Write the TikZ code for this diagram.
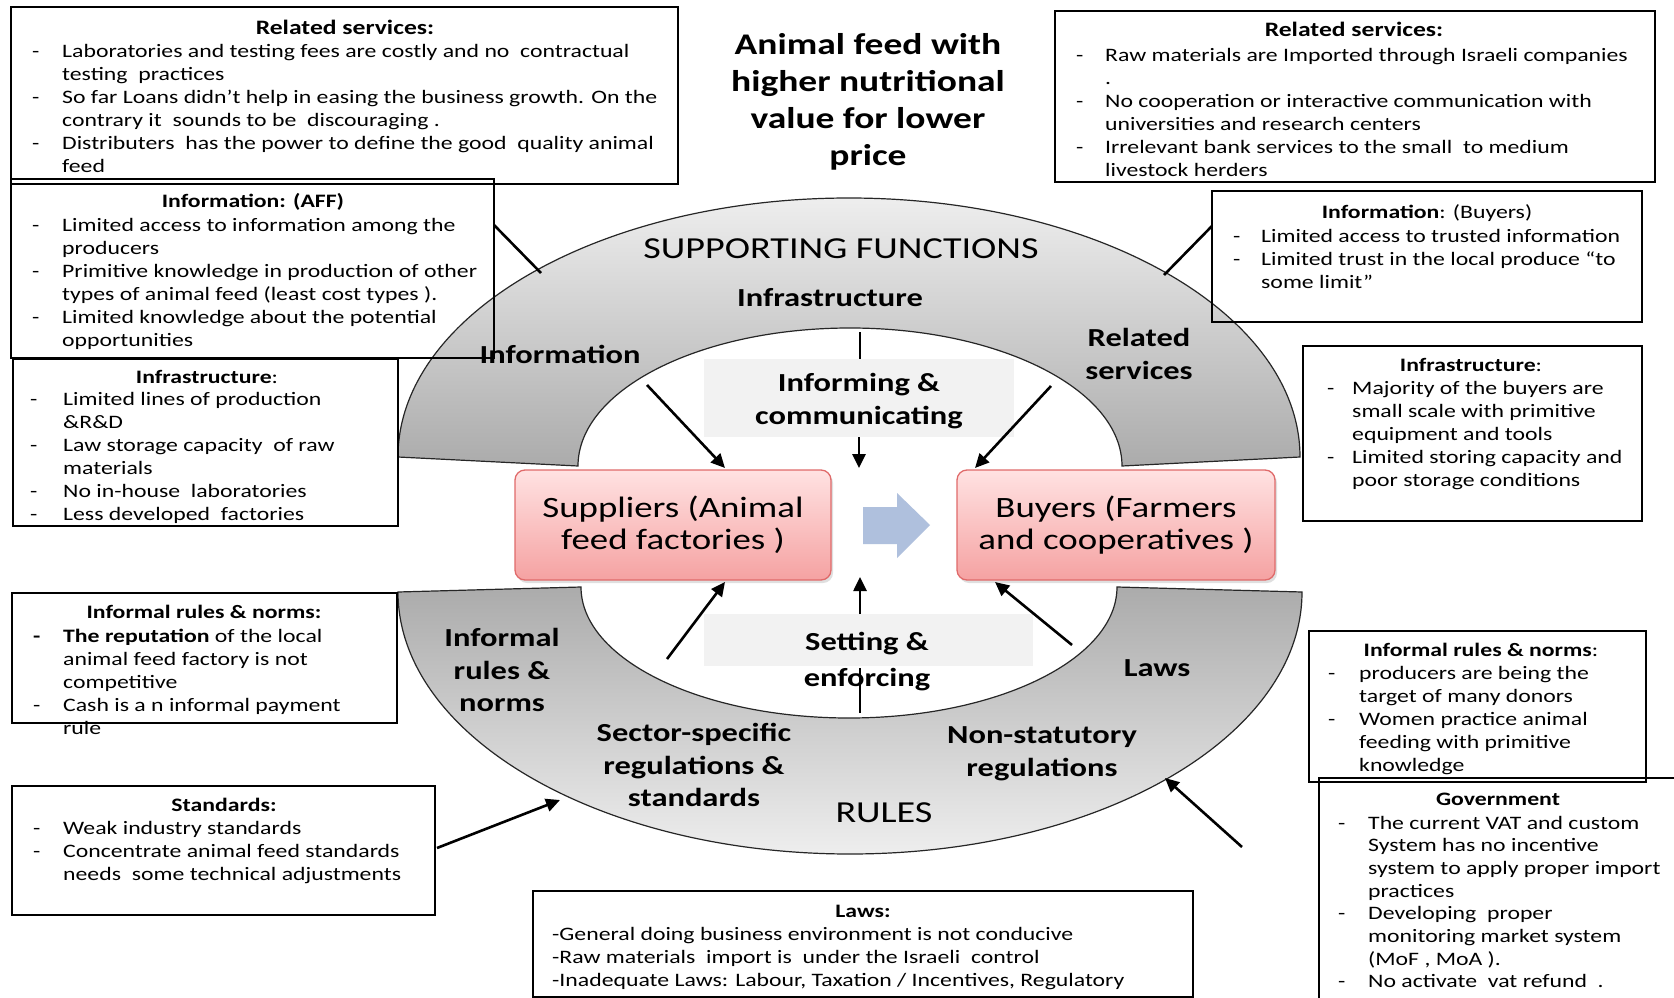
\documentclass[tikz,border=0pt]{standalone}
\usepackage{fontspec}
\setmainfont{Carlito}[FakeStretch=1.25]
\usetikzlibrary{arrows.meta,shadows}

\definecolor{archlight}{HTML}{EEEEEE}
\definecolor{archdark}{HTML}{ABABAB}
\definecolor{labelbg}{HTML}{F2F2F2}
\definecolor{pinktop}{HTML}{FFE2E2}
\definecolor{pinkbot}{HTML}{F5A2A2}
\definecolor{pinkedge}{HTML}{E06A6A}
\definecolor{flowblue}{HTML}{AFC0DD}

\newcommand{\blist}[2]{\begin{tabular}[t]{@{}p{#1}@{}l@{}}#2\end{tabular}}

\begin{document}
\begin{tikzpicture}[x=1pt,y=-1pt,
  box/.style={draw=black, line width=1.5pt},
  ttl/.style={anchor=base, inner sep=0pt, font=\fontsize{19}{23}\selectfont\bfseries},
  bigttl/.style={anchor=base, inner sep=0pt, font=\fontsize{20.5}{23}\selectfont\bfseries},
  bodytxt/.style={anchor=base west, inner sep=0pt, font=\fontsize{19}{23}\selectfont},
  arclbl/.style={align=center, inner sep=0pt, font=\fontsize{26}{32.5}\selectfont\bfseries},
  bigcap/.style={inner sep=0pt, font=\fontsize{30.5}{34}\selectfont},
  actor/.style={draw=pinkedge, line width=1.3pt, rounded corners=10pt,
    top color=pinktop, bottom color=pinkbot, align=center,
    font=\fontsize{29.5}{32}\selectfont,
    drop shadow={shadow xshift=2pt, shadow yshift=-3pt, opacity=0.25}},
  arch/.style={draw=black!85, line width=1.2pt},
  link/.style={line width=2.6pt},
  arrowline/.style={line width=2.6pt, -{Triangle[length=14pt,width=13pt]}}]

\useasboundingbox (0,0) rectangle (1674,998);
\fill[white] (0,0) rectangle (1674,998);

% supporting functions arch (top) and rules arch (bottom)
\draw[arch, top color=archlight, bottom color=archdark]
  (398,457) arc[start angle=180, end angle=0, x radius=451pt, y radius=259pt]
  -- (1122,466) arc[start angle=0, end angle=180, x radius=272pt, y radius=138pt]
  -- cycle;
\draw[arch, top color=archdark, bottom color=archlight]
  (398,592) arc[start angle=180, end angle=360, x radius=452pt, y radius=262pt]
  -- (1117,587) arc[start angle=360, end angle=180, x radius=268pt, y radius=131pt]
  -- cycle;

% labels inside the arches
\node[bigcap] (supfun) at (841,249) {SUPPORTING FUNCTIONS};
\node[arclbl] (infra) at (830,298) {Infrastructure};
\node[arclbl] (info) at (560,354) {Information};
\node[arclbl] (relserv) at (1139,354) {Related\\services};
\node[arclbl] (informal) at (502,670) {Informal\\rules \&\\norms};
\node[arclbl] (laws) at (1157,668) {Laws};
\node[arclbl] (sector) at (694,765) {Sector-specific\\regulations \&\\standards};
\node[arclbl] (nonstat) at (1042,754) {Non-statutory\\regulations};
\node[bigcap] (rules) at (884,813) {RULES};

% grey captions in the middle
\node[fill=labelbg, minimum width=310pt, minimum height=78pt, inner sep=0pt] (inform) at (859,398) {};
\node[arclbl] (inftxt) at (859,401) {Informing \&\\communicating};
\node[fill=labelbg, minimum width=329pt, minimum height=52pt, inner sep=0pt] (setbox) at (868.5,640) {};
\node[arclbl, font=\fontsize{26}{36}\selectfont\bfseries] (settxt) at (867,662) {Setting \&\\enforcing};

% market actors
\node[actor, minimum width=316pt, minimum height=110pt] (sup) at (673,525) {Suppliers (Animal\\feed factories )};
\node[actor, minimum width=318pt, minimum height=110pt] (buy) at (1116,525) {Buyers (Farmers\\and cooperatives )};
\fill[flowblue] (863,507) -- (897,507) -- (897,493) -- (930,525) -- (897,558) -- (897,544) -- (863,544) -- cycle;

% title
\node[align=center, inner sep=0pt, font=\fontsize{30}{37}\selectfont\bfseries] (title) at (868,102)
  {Animal feed with\\higher nutritional\\value for lower\\price};

% arrows from the supporting functions
\coordinate (ta1) at (647,385); \coordinate (ta2) at (725,468);
\coordinate (tv0) at (860,332); \coordinate (tv1) at (859,468);
\coordinate (tc1) at (1051,386); \coordinate (tc2) at (975,468);
\draw[arrowline] (ta1) -- (ta2);
\draw[link] (tv0) -- (tv0 |- inform.north);
\draw[arrowline] (tv1 |- inform.south) -- (tv1);
\draw[arrowline] (tc1) -- (tc2);

% arrows from the rules
\coordinate (ba1) at (667,659); \coordinate (ba2) at (725,582);
\coordinate (bv0) at (860,713); \coordinate (bv1) at (860,668);
\coordinate (bv2) at (860,614); \coordinate (bv3) at (860,577);
\coordinate (bc1) at (1072,645); \coordinate (bc2) at (995,582);
\draw[arrowline] (ba1) -- (ba2);
\draw[link] (bv0) -- (bv1);
\draw[arrowline] (bv2) -- (bv3);
\draw[arrowline] (bc1) -- (bc2);

% ---------- left column ----------
\draw[box] (11,7) rectangle (678,184);
\node[bigttl] (relL) at (345,35) {Related services:};
\node[bodytxt] (relLtxt) at (32,58) {\blist{30pt}{%
- & Laboratories and testing fees are costly and no\ \ contractual\\
  & testing\ \ practices\\
- & So far Loans didn’t help in easing the business growth. On the\\
  & contrary it\ \ sounds to be\ \ discouraging .\\
- & Distributers\ \ has the power to define the good\ \ quality animal\\
  & feed}};

\draw[box] (11,179) rectangle (494,358);
\node[ttl] (infoL) at (253,207) {Information: (AFF)};
\node[bodytxt] (infoLtxt) at (32,231) {\blist{30pt}{%
- & Limited access to information among the\\
  & producers\\
- & Primitive knowledge in production of other\\
  & types of animal feed (least cost types ).\\
- & Limited knowledge about the potential\\
  & opportunities}};

\draw[box] (13,359) rectangle (398,526);
\node[ttl] (infraL) at (207,383) {Infrastructure\mdseries:};
\node[bodytxt] (infraLtxt) at (30,405) {\blist{33pt}{%
- & Limited lines of production\\
  & \&R\&D\\
- & Law storage capacity\ \ of raw\\
  & materials\\
- & No in-house\ \ laboratories\\
- & Less developed\ \ factories}};

\draw[box] (12,593) rectangle (397,723);
\node[ttl] (normL) at (204,618) {Informal rules \& norms:};
\node[bodytxt] (normLtxt) at (33,642) {\blist{30pt}{%
\textbf{-} & \textbf{The reputation} of the local\\
  & animal feed factory is not\\
  & competitive\\
- & Cash is a n informal payment\\
  & rule}};

\draw[box] (12,786) rectangle (435,915);
\node[ttl] (stdL) at (224,811) {Standards:};
\node[bodytxt] (stdLtxt) at (33,834) {\blist{30pt}{%
- & Weak industry standards\\
- & Concentrate animal feed standards\\
  & needs\ \ some technical adjustments}};

% ---------- bottom ----------
\draw[box] (533,891) rectangle (1193,997);
\node[ttl] (lawB) at (863,917) {Laws:};
\node[bodytxt] (lawBtxt) at (552,940) {\blist{0pt}{%
& -General doing business environment is not conducive\\
& -Raw materials\ \ import is\ \ under the Israeli\ \ control\\
& -Inadequate Laws: Labour, Taxation / Incentives, Regulatory}};

% ---------- right column ----------
\draw[box] (1055,11) rectangle (1655,182);
\node[bigttl] (relR) at (1354,37) {Related services:};
\node[bodytxt] (relRtxt) at (1076,62) {\blist{29pt}{%
- & Raw materials are Imported through Israeli companies\\
  & .\\
- & No cooperation or interactive communication with\\
  & universities and research centers\\
- & Irrelevant bank services to the small\ \ to medium\\
  & livestock herders}};

\draw[box] (1212,191) rectangle (1642,322);
\node[ttl] (infoR) at (1427,218) {Information\mdseries: (Buyers)};
\node[bodytxt] (infoRtxt) at (1233,242) {\blist{28pt}{%
- & Limited access to trusted information\\
- & Limited trust in the local produce “to\\
  & some limit”}};

\draw[box] (1303,346) rectangle (1642,521);
\node[ttl] (infraR) at (1471,371) {Infrastructure\mdseries:};
\node[bodytxt] (infraRtxt) at (1327,394) {\blist{25pt}{%
- & Majority of the buyers are\\
  & small scale with primitive\\
  & equipment and tools\\
- & Limited storing capacity and\\
  & poor storage conditions}};

\draw[box] (1309,631) rectangle (1646,782);
\node[ttl] (normR) at (1481,656) {Informal rules \& norms\mdseries:};
\node[bodytxt] (normRtxt) at (1328,679) {\blist{31pt}{%
- & producers are being the\\
  & target of many donors\\
- & Women practice animal\\
  & feeding with primitive\\
  & knowledge}};

\draw[box] (1685,778) -- (1319,778) -- (1319,1005);
\node[ttl] (govR) at (1498,805) {Government};
\node[bodytxt, font=\fontsize{19}{22.7}\selectfont] (govRtxt) at (1338,829) {\blist{30pt}{%
- & The current VAT and custom\\
  & System has no incentive\\
  & system to apply proper import\\
  & practices\\
- & Developing\ \ proper\\
  & monitoring market system\\
  & (MoF , MoA ).\\
- & No activate\ \ vat refund\ \ .}};

% links from the boxes to the arches
\coordinate (lkA1) at (494,225); \coordinate (lkA2) at (541,273);
\coordinate (lkB1) at (1212,226); \coordinate (lkB2) at (1164,275);
\draw[link] (lkA1) -- (lkA2);
\draw[link] (lkB1) -- (lkB2);
\coordinate (stdS) at (437,848); \coordinate (stdE) at (560,800);
\coordinate (govS) at (1242,847); \coordinate (govE) at (1165,778);
\draw[arrowline] (stdS) -- (stdE);
\draw[arrowline] (govS) -- (govE);

\end{tikzpicture}
\end{document}
